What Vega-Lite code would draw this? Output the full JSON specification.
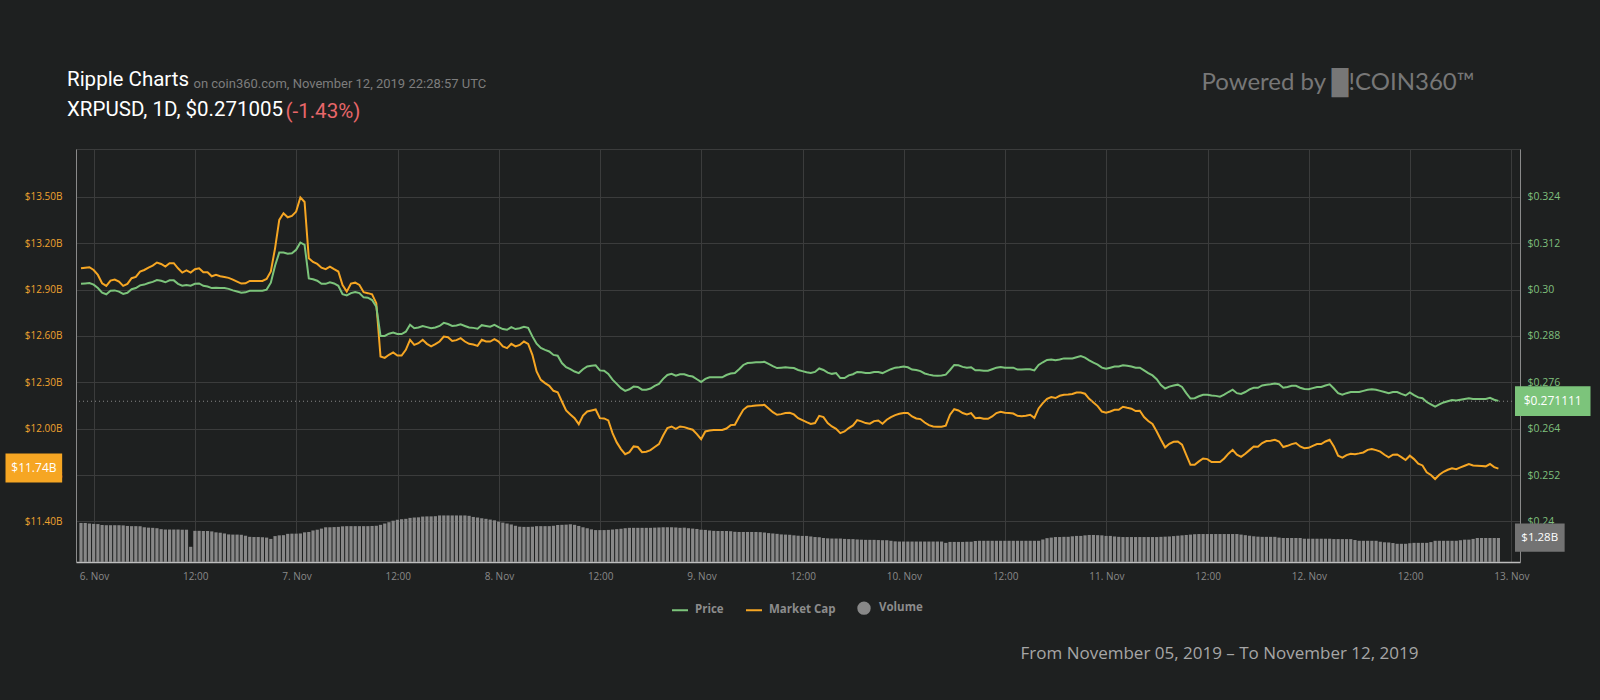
{
  "$schema": "https://vega.github.io/schema/vega-lite/v6.json",
  "width": 1444,
  "height": 413,
  "autosize": {"type": "none"},
  "padding": {"left": 76, "top": 149, "right": 80, "bottom": 138},
  "background": "#1e2020",
  "title": {
    "text": "Ripple Charts",
    "subtitle": "XRPUSD, 1D, $0.271005",
    "anchor": "start",
    "frame": "group",
    "font": "Roboto",
    "fontSize": 20.5,
    "fontWeight": "normal",
    "color": "#ffffff",
    "subtitleFont": "Roboto",
    "subtitleFontSize": 20.5,
    "subtitleColor": "#ffffff",
    "subtitlePadding": 9,
    "offset": -50,
    "dx": -9
  },
  "data": {
    "values": [
      {"t": "2019-11-05T22:28", "p": 0.3015, "m": 13.038, "v": 2.08},
      {"t": "2019-11-05T22:58", "p": 0.3016, "m": 13.042, "v": 2.08},
      {"t": "2019-11-05T23:28", "p": 0.3017, "m": 13.045, "v": 2.05},
      {"t": "2019-11-05T23:58", "p": 0.3013, "m": 13.027, "v": 2.03},
      {"t": "2019-11-06T00:28", "p": 0.3004, "m": 12.995, "v": 2.02},
      {"t": "2019-11-06T00:58", "p": 0.2992, "m": 12.941, "v": 1.97},
      {"t": "2019-11-06T01:28", "p": 0.2988, "m": 12.924, "v": 1.96},
      {"t": "2019-11-06T01:58", "p": 0.2997, "m": 12.958, "v": 1.96},
      {"t": "2019-11-06T02:28", "p": 0.2998, "m": 12.965, "v": 1.96},
      {"t": "2019-11-06T02:58", "p": 0.2995, "m": 12.952, "v": 1.96},
      {"t": "2019-11-06T03:28", "p": 0.2989, "m": 12.924, "v": 1.95},
      {"t": "2019-11-06T03:58", "p": 0.2992, "m": 12.937, "v": 1.92},
      {"t": "2019-11-06T04:28", "p": 0.3001, "m": 12.974, "v": 1.91},
      {"t": "2019-11-06T04:58", "p": 0.3004, "m": 12.982, "v": 1.91},
      {"t": "2019-11-06T05:28", "p": 0.3011, "m": 13.017, "v": 1.90},
      {"t": "2019-11-06T05:58", "p": 0.3013, "m": 13.027, "v": 1.85},
      {"t": "2019-11-06T06:28", "p": 0.3017, "m": 13.042, "v": 1.83},
      {"t": "2019-11-06T06:58", "p": 0.3020, "m": 13.055, "v": 1.82},
      {"t": "2019-11-06T07:28", "p": 0.3025, "m": 13.075, "v": 1.80},
      {"t": "2019-11-06T07:58", "p": 0.3023, "m": 13.066, "v": 1.75},
      {"t": "2019-11-06T08:28", "p": 0.3019, "m": 13.049, "v": 1.73},
      {"t": "2019-11-06T08:58", "p": 0.3024, "m": 13.071, "v": 1.73},
      {"t": "2019-11-06T09:28", "p": 0.3024, "m": 13.071, "v": 1.73},
      {"t": "2019-11-06T09:58", "p": 0.3015, "m": 13.038, "v": 1.73},
      {"t": "2019-11-06T10:28", "p": 0.3010, "m": 13.010, "v": 1.72},
      {"t": "2019-11-06T10:58", "p": 0.3012, "m": 13.025, "v": 1.72},
      {"t": "2019-11-06T11:28", "p": 0.3010, "m": 13.010, "v": 0.81},
      {"t": "2019-11-06T11:58", "p": 0.3015, "m": 13.032, "v": 1.66},
      {"t": "2019-11-06T12:28", "p": 0.3016, "m": 13.038, "v": 1.66},
      {"t": "2019-11-06T12:58", "p": 0.3010, "m": 13.012, "v": 1.65},
      {"t": "2019-11-06T13:28", "p": 0.3008, "m": 13.012, "v": 1.65},
      {"t": "2019-11-06T13:58", "p": 0.3004, "m": 12.986, "v": 1.63},
      {"t": "2019-11-06T14:28", "p": 0.3005, "m": 12.995, "v": 1.58},
      {"t": "2019-11-06T14:58", "p": 0.3004, "m": 12.986, "v": 1.56},
      {"t": "2019-11-06T15:28", "p": 0.3004, "m": 12.982, "v": 1.52},
      {"t": "2019-11-06T15:58", "p": 0.3002, "m": 12.976, "v": 1.47},
      {"t": "2019-11-06T16:28", "p": 0.2998, "m": 12.965, "v": 1.46},
      {"t": "2019-11-06T16:58", "p": 0.2995, "m": 12.952, "v": 1.46},
      {"t": "2019-11-06T17:28", "p": 0.2992, "m": 12.939, "v": 1.45},
      {"t": "2019-11-06T17:58", "p": 0.2993, "m": 12.941, "v": 1.40},
      {"t": "2019-11-06T18:28", "p": 0.2997, "m": 12.956, "v": 1.34},
      {"t": "2019-11-06T18:58", "p": 0.2997, "m": 12.956, "v": 1.33},
      {"t": "2019-11-06T19:28", "p": 0.2997, "m": 12.956, "v": 1.33},
      {"t": "2019-11-06T19:58", "p": 0.2997, "m": 12.956, "v": 1.32},
      {"t": "2019-11-06T20:28", "p": 0.3000, "m": 12.969, "v": 1.30},
      {"t": "2019-11-06T20:58", "p": 0.3018, "m": 13.017, "v": 1.23},
      {"t": "2019-11-06T21:28", "p": 0.3062, "m": 13.167, "v": 1.38},
      {"t": "2019-11-06T21:58", "p": 0.3096, "m": 13.351, "v": 1.42},
      {"t": "2019-11-06T22:28", "p": 0.3096, "m": 13.394, "v": 1.43},
      {"t": "2019-11-06T22:58", "p": 0.3093, "m": 13.368, "v": 1.50},
      {"t": "2019-11-06T23:28", "p": 0.3094, "m": 13.377, "v": 1.51},
      {"t": "2019-11-06T23:58", "p": 0.3103, "m": 13.405, "v": 1.51},
      {"t": "2019-11-07T00:28", "p": 0.3122, "m": 13.497, "v": 1.52},
      {"t": "2019-11-07T00:58", "p": 0.3116, "m": 13.467, "v": 1.58},
      {"t": "2019-11-07T01:28", "p": 0.3029, "m": 13.103, "v": 1.60},
      {"t": "2019-11-07T01:58", "p": 0.3027, "m": 13.079, "v": 1.68},
      {"t": "2019-11-07T02:28", "p": 0.3023, "m": 13.066, "v": 1.72},
      {"t": "2019-11-07T02:58", "p": 0.3015, "m": 13.042, "v": 1.78},
      {"t": "2019-11-07T03:28", "p": 0.3015, "m": 13.032, "v": 1.85},
      {"t": "2019-11-07T03:58", "p": 0.3019, "m": 13.049, "v": 1.85},
      {"t": "2019-11-07T04:28", "p": 0.3016, "m": 13.032, "v": 1.86},
      {"t": "2019-11-07T04:58", "p": 0.3010, "m": 13.017, "v": 1.87},
      {"t": "2019-11-07T05:28", "p": 0.2988, "m": 12.930, "v": 1.90},
      {"t": "2019-11-07T05:58", "p": 0.2985, "m": 12.887, "v": 1.91},
      {"t": "2019-11-07T06:28", "p": 0.2991, "m": 12.939, "v": 1.91},
      {"t": "2019-11-07T06:58", "p": 0.2994, "m": 12.945, "v": 1.91},
      {"t": "2019-11-07T07:28", "p": 0.2991, "m": 12.930, "v": 1.91},
      {"t": "2019-11-07T07:58", "p": 0.2980, "m": 12.883, "v": 1.91},
      {"t": "2019-11-07T08:28", "p": 0.2979, "m": 12.877, "v": 1.91},
      {"t": "2019-11-07T08:58", "p": 0.2973, "m": 12.870, "v": 1.92},
      {"t": "2019-11-07T09:28", "p": 0.2956, "m": 12.812, "v": 1.93},
      {"t": "2019-11-07T09:58", "p": 0.2880, "m": 12.467, "v": 1.98},
      {"t": "2019-11-07T10:28", "p": 0.2880, "m": 12.458, "v": 2.05},
      {"t": "2019-11-07T10:58", "p": 0.2886, "m": 12.478, "v": 2.12},
      {"t": "2019-11-07T11:28", "p": 0.2889, "m": 12.493, "v": 2.20},
      {"t": "2019-11-07T11:58", "p": 0.2885, "m": 12.473, "v": 2.25},
      {"t": "2019-11-07T12:28", "p": 0.2885, "m": 12.473, "v": 2.28},
      {"t": "2019-11-07T12:58", "p": 0.2891, "m": 12.510, "v": 2.30},
      {"t": "2019-11-07T13:28", "p": 0.2909, "m": 12.575, "v": 2.35},
      {"t": "2019-11-07T13:58", "p": 0.2900, "m": 12.542, "v": 2.37},
      {"t": "2019-11-07T14:28", "p": 0.2902, "m": 12.553, "v": 2.38},
      {"t": "2019-11-07T14:58", "p": 0.2906, "m": 12.575, "v": 2.42},
      {"t": "2019-11-07T15:28", "p": 0.2903, "m": 12.549, "v": 2.43},
      {"t": "2019-11-07T15:58", "p": 0.2900, "m": 12.532, "v": 2.43},
      {"t": "2019-11-07T16:28", "p": 0.2902, "m": 12.547, "v": 2.44},
      {"t": "2019-11-07T16:58", "p": 0.2906, "m": 12.564, "v": 2.48},
      {"t": "2019-11-07T17:28", "p": 0.2914, "m": 12.596, "v": 2.48},
      {"t": "2019-11-07T17:58", "p": 0.2911, "m": 12.592, "v": 2.48},
      {"t": "2019-11-07T18:28", "p": 0.2906, "m": 12.568, "v": 2.48},
      {"t": "2019-11-07T18:58", "p": 0.2907, "m": 12.573, "v": 2.48},
      {"t": "2019-11-07T19:28", "p": 0.2910, "m": 12.586, "v": 2.48},
      {"t": "2019-11-07T19:58", "p": 0.2906, "m": 12.564, "v": 2.48},
      {"t": "2019-11-07T20:28", "p": 0.2902, "m": 12.549, "v": 2.46},
      {"t": "2019-11-07T20:58", "p": 0.2901, "m": 12.545, "v": 2.40},
      {"t": "2019-11-07T21:28", "p": 0.2899, "m": 12.536, "v": 2.37},
      {"t": "2019-11-07T21:58", "p": 0.2908, "m": 12.575, "v": 2.33},
      {"t": "2019-11-07T22:28", "p": 0.2906, "m": 12.564, "v": 2.30},
      {"t": "2019-11-07T22:58", "p": 0.2904, "m": 12.564, "v": 2.26},
      {"t": "2019-11-07T23:28", "p": 0.2909, "m": 12.579, "v": 2.22},
      {"t": "2019-11-07T23:58", "p": 0.2903, "m": 12.564, "v": 2.15},
      {"t": "2019-11-08T00:28", "p": 0.2898, "m": 12.532, "v": 2.10},
      {"t": "2019-11-08T00:58", "p": 0.2896, "m": 12.521, "v": 2.05},
      {"t": "2019-11-08T01:28", "p": 0.2903, "m": 12.549, "v": 2.00},
      {"t": "2019-11-08T01:58", "p": 0.2898, "m": 12.532, "v": 1.93},
      {"t": "2019-11-08T02:28", "p": 0.2900, "m": 12.542, "v": 1.88},
      {"t": "2019-11-08T02:58", "p": 0.2904, "m": 12.564, "v": 1.87},
      {"t": "2019-11-08T03:28", "p": 0.2901, "m": 12.549, "v": 1.87},
      {"t": "2019-11-08T03:58", "p": 0.2879, "m": 12.478, "v": 1.88},
      {"t": "2019-11-08T04:28", "p": 0.2860, "m": 12.370, "v": 1.91},
      {"t": "2019-11-08T04:58", "p": 0.2849, "m": 12.316, "v": 1.91},
      {"t": "2019-11-08T05:28", "p": 0.2844, "m": 12.295, "v": 1.91},
      {"t": "2019-11-08T05:58", "p": 0.2840, "m": 12.277, "v": 1.91},
      {"t": "2019-11-08T06:28", "p": 0.2831, "m": 12.245, "v": 1.93},
      {"t": "2019-11-08T06:58", "p": 0.2829, "m": 12.236, "v": 1.97},
      {"t": "2019-11-08T07:28", "p": 0.2810, "m": 12.176, "v": 1.98},
      {"t": "2019-11-08T07:58", "p": 0.2799, "m": 12.118, "v": 1.99},
      {"t": "2019-11-08T08:28", "p": 0.2794, "m": 12.092, "v": 2.01},
      {"t": "2019-11-08T08:58", "p": 0.2788, "m": 12.068, "v": 1.98},
      {"t": "2019-11-08T09:28", "p": 0.2784, "m": 12.029, "v": 1.92},
      {"t": "2019-11-08T09:58", "p": 0.2794, "m": 12.085, "v": 1.85},
      {"t": "2019-11-08T10:28", "p": 0.2801, "m": 12.111, "v": 1.80},
      {"t": "2019-11-08T10:58", "p": 0.2803, "m": 12.118, "v": 1.74},
      {"t": "2019-11-08T11:28", "p": 0.2804, "m": 12.124, "v": 1.70},
      {"t": "2019-11-08T11:58", "p": 0.2791, "m": 12.068, "v": 1.70},
      {"t": "2019-11-08T12:28", "p": 0.2790, "m": 12.066, "v": 1.70},
      {"t": "2019-11-08T12:58", "p": 0.2782, "m": 12.053, "v": 1.71},
      {"t": "2019-11-08T13:28", "p": 0.2767, "m": 11.971, "v": 1.73},
      {"t": "2019-11-08T13:58", "p": 0.2756, "m": 11.911, "v": 1.75},
      {"t": "2019-11-08T14:28", "p": 0.2745, "m": 11.868, "v": 1.77},
      {"t": "2019-11-08T14:58", "p": 0.2738, "m": 11.835, "v": 1.80},
      {"t": "2019-11-08T15:28", "p": 0.2742, "m": 11.848, "v": 1.82},
      {"t": "2019-11-08T15:58", "p": 0.2749, "m": 11.885, "v": 1.82},
      {"t": "2019-11-08T16:28", "p": 0.2748, "m": 11.881, "v": 1.82},
      {"t": "2019-11-08T16:58", "p": 0.2741, "m": 11.848, "v": 1.82},
      {"t": "2019-11-08T17:28", "p": 0.2741, "m": 11.851, "v": 1.82},
      {"t": "2019-11-08T17:58", "p": 0.2744, "m": 11.861, "v": 1.82},
      {"t": "2019-11-08T18:28", "p": 0.2751, "m": 11.881, "v": 1.83},
      {"t": "2019-11-08T18:58", "p": 0.2756, "m": 11.900, "v": 1.84},
      {"t": "2019-11-08T19:28", "p": 0.2769, "m": 11.956, "v": 1.85},
      {"t": "2019-11-08T19:58", "p": 0.2779, "m": 12.004, "v": 1.85},
      {"t": "2019-11-08T20:28", "p": 0.2782, "m": 12.014, "v": 1.85},
      {"t": "2019-11-08T20:58", "p": 0.2777, "m": 11.999, "v": 1.84},
      {"t": "2019-11-08T21:28", "p": 0.2781, "m": 12.014, "v": 1.82},
      {"t": "2019-11-08T21:58", "p": 0.2781, "m": 12.010, "v": 1.83},
      {"t": "2019-11-08T22:28", "p": 0.2777, "m": 12.001, "v": 1.80},
      {"t": "2019-11-08T22:58", "p": 0.2775, "m": 11.993, "v": 1.78},
      {"t": "2019-11-08T23:28", "p": 0.2768, "m": 11.965, "v": 1.76},
      {"t": "2019-11-08T23:58", "p": 0.2761, "m": 11.932, "v": 1.72},
      {"t": "2019-11-09T00:28", "p": 0.2769, "m": 11.982, "v": 1.71},
      {"t": "2019-11-09T00:58", "p": 0.2773, "m": 11.988, "v": 1.68},
      {"t": "2019-11-09T01:28", "p": 0.2773, "m": 11.991, "v": 1.66},
      {"t": "2019-11-09T01:58", "p": 0.2773, "m": 11.991, "v": 1.65},
      {"t": "2019-11-09T02:28", "p": 0.2773, "m": 11.991, "v": 1.65},
      {"t": "2019-11-09T02:58", "p": 0.2779, "m": 12.001, "v": 1.65},
      {"t": "2019-11-09T03:28", "p": 0.2783, "m": 12.023, "v": 1.64},
      {"t": "2019-11-09T03:58", "p": 0.2784, "m": 12.025, "v": 1.61},
      {"t": "2019-11-09T04:28", "p": 0.2794, "m": 12.075, "v": 1.60},
      {"t": "2019-11-09T04:58", "p": 0.2805, "m": 12.122, "v": 1.60},
      {"t": "2019-11-09T05:28", "p": 0.2810, "m": 12.144, "v": 1.60},
      {"t": "2019-11-09T05:58", "p": 0.2811, "m": 12.146, "v": 1.60},
      {"t": "2019-11-09T06:28", "p": 0.2812, "m": 12.150, "v": 1.60},
      {"t": "2019-11-09T06:58", "p": 0.2812, "m": 12.152, "v": 1.59},
      {"t": "2019-11-09T07:28", "p": 0.2813, "m": 12.154, "v": 1.57},
      {"t": "2019-11-09T07:58", "p": 0.2808, "m": 12.131, "v": 1.54},
      {"t": "2019-11-09T08:28", "p": 0.2802, "m": 12.107, "v": 1.52},
      {"t": "2019-11-09T08:58", "p": 0.2797, "m": 12.090, "v": 1.50},
      {"t": "2019-11-09T09:28", "p": 0.2798, "m": 12.094, "v": 1.47},
      {"t": "2019-11-09T09:58", "p": 0.2799, "m": 12.101, "v": 1.46},
      {"t": "2019-11-09T10:28", "p": 0.2798, "m": 12.103, "v": 1.45},
      {"t": "2019-11-09T10:58", "p": 0.2797, "m": 12.092, "v": 1.42},
      {"t": "2019-11-09T11:28", "p": 0.2792, "m": 12.068, "v": 1.40},
      {"t": "2019-11-09T11:58", "p": 0.2789, "m": 12.055, "v": 1.39},
      {"t": "2019-11-09T12:28", "p": 0.2786, "m": 12.042, "v": 1.39},
      {"t": "2019-11-09T12:58", "p": 0.2784, "m": 12.030, "v": 1.36},
      {"t": "2019-11-09T13:28", "p": 0.2787, "m": 12.036, "v": 1.33},
      {"t": "2019-11-09T13:58", "p": 0.2796, "m": 12.083, "v": 1.32},
      {"t": "2019-11-09T14:28", "p": 0.2792, "m": 12.075, "v": 1.28},
      {"t": "2019-11-09T14:58", "p": 0.2785, "m": 12.036, "v": 1.26},
      {"t": "2019-11-09T15:28", "p": 0.2782, "m": 12.014, "v": 1.25},
      {"t": "2019-11-09T15:58", "p": 0.2784, "m": 11.999, "v": 1.25},
      {"t": "2019-11-09T16:28", "p": 0.2771, "m": 11.971, "v": 1.25},
      {"t": "2019-11-09T16:58", "p": 0.2771, "m": 11.982, "v": 1.23},
      {"t": "2019-11-09T17:28", "p": 0.2778, "m": 12.004, "v": 1.22},
      {"t": "2019-11-09T17:58", "p": 0.2781, "m": 12.021, "v": 1.22},
      {"t": "2019-11-09T18:28", "p": 0.2787, "m": 12.055, "v": 1.20},
      {"t": "2019-11-09T18:58", "p": 0.2786, "m": 12.047, "v": 1.19},
      {"t": "2019-11-09T19:28", "p": 0.2784, "m": 12.036, "v": 1.18},
      {"t": "2019-11-09T19:58", "p": 0.2784, "m": 12.032, "v": 1.18},
      {"t": "2019-11-09T20:28", "p": 0.2787, "m": 12.049, "v": 1.18},
      {"t": "2019-11-09T20:58", "p": 0.2787, "m": 12.053, "v": 1.17},
      {"t": "2019-11-09T21:28", "p": 0.2784, "m": 12.032, "v": 1.16},
      {"t": "2019-11-09T21:58", "p": 0.2789, "m": 12.058, "v": 1.16},
      {"t": "2019-11-09T22:28", "p": 0.2794, "m": 12.075, "v": 1.13},
      {"t": "2019-11-09T22:58", "p": 0.2798, "m": 12.088, "v": 1.10},
      {"t": "2019-11-09T23:28", "p": 0.2799, "m": 12.096, "v": 1.09},
      {"t": "2019-11-09T23:58", "p": 0.2801, "m": 12.101, "v": 1.09},
      {"t": "2019-11-10T00:28", "p": 0.2799, "m": 12.101, "v": 1.09},
      {"t": "2019-11-10T00:58", "p": 0.2793, "m": 12.079, "v": 1.09},
      {"t": "2019-11-10T01:28", "p": 0.2792, "m": 12.066, "v": 1.09},
      {"t": "2019-11-10T01:58", "p": 0.2789, "m": 12.062, "v": 1.09},
      {"t": "2019-11-10T02:28", "p": 0.2783, "m": 12.040, "v": 1.09},
      {"t": "2019-11-10T02:58", "p": 0.2780, "m": 12.023, "v": 1.09},
      {"t": "2019-11-10T03:28", "p": 0.2778, "m": 12.014, "v": 1.09},
      {"t": "2019-11-10T03:58", "p": 0.2777, "m": 12.012, "v": 1.09},
      {"t": "2019-11-10T04:28", "p": 0.2778, "m": 12.012, "v": 1.09},
      {"t": "2019-11-10T04:58", "p": 0.2780, "m": 12.019, "v": 1.02},
      {"t": "2019-11-10T05:28", "p": 0.2792, "m": 12.090, "v": 1.07},
      {"t": "2019-11-10T05:58", "p": 0.2805, "m": 12.126, "v": 1.07},
      {"t": "2019-11-10T06:28", "p": 0.2804, "m": 12.118, "v": 1.07},
      {"t": "2019-11-10T06:58", "p": 0.2800, "m": 12.101, "v": 1.07},
      {"t": "2019-11-10T07:28", "p": 0.2798, "m": 12.092, "v": 1.08},
      {"t": "2019-11-10T07:58", "p": 0.2799, "m": 12.101, "v": 1.08},
      {"t": "2019-11-10T08:28", "p": 0.2791, "m": 12.068, "v": 1.12},
      {"t": "2019-11-10T08:58", "p": 0.2791, "m": 12.070, "v": 1.13},
      {"t": "2019-11-10T09:28", "p": 0.2790, "m": 12.064, "v": 1.13},
      {"t": "2019-11-10T09:58", "p": 0.2790, "m": 12.064, "v": 1.13},
      {"t": "2019-11-10T10:28", "p": 0.2794, "m": 12.079, "v": 1.13},
      {"t": "2019-11-10T10:58", "p": 0.2798, "m": 12.101, "v": 1.13},
      {"t": "2019-11-10T11:28", "p": 0.2800, "m": 12.109, "v": 1.13},
      {"t": "2019-11-10T11:58", "p": 0.2798, "m": 12.103, "v": 1.13},
      {"t": "2019-11-10T12:28", "p": 0.2798, "m": 12.101, "v": 1.13},
      {"t": "2019-11-10T12:58", "p": 0.2798, "m": 12.098, "v": 1.13},
      {"t": "2019-11-10T13:28", "p": 0.2793, "m": 12.083, "v": 1.13},
      {"t": "2019-11-10T13:58", "p": 0.2793, "m": 12.081, "v": 1.13},
      {"t": "2019-11-10T14:28", "p": 0.2794, "m": 12.083, "v": 1.13},
      {"t": "2019-11-10T14:58", "p": 0.2794, "m": 12.090, "v": 1.13},
      {"t": "2019-11-10T15:28", "p": 0.2791, "m": 12.070, "v": 1.13},
      {"t": "2019-11-10T15:58", "p": 0.2805, "m": 12.131, "v": 1.13},
      {"t": "2019-11-10T16:28", "p": 0.2812, "m": 12.165, "v": 1.20},
      {"t": "2019-11-10T16:58", "p": 0.2818, "m": 12.193, "v": 1.27},
      {"t": "2019-11-10T17:28", "p": 0.2819, "m": 12.204, "v": 1.30},
      {"t": "2019-11-10T17:58", "p": 0.2817, "m": 12.198, "v": 1.33},
      {"t": "2019-11-10T18:28", "p": 0.2819, "m": 12.213, "v": 1.33},
      {"t": "2019-11-10T18:58", "p": 0.2822, "m": 12.219, "v": 1.34},
      {"t": "2019-11-10T19:28", "p": 0.2822, "m": 12.221, "v": 1.34},
      {"t": "2019-11-10T19:58", "p": 0.2822, "m": 12.224, "v": 1.37},
      {"t": "2019-11-10T20:28", "p": 0.2825, "m": 12.234, "v": 1.39},
      {"t": "2019-11-10T20:58", "p": 0.2828, "m": 12.234, "v": 1.39},
      {"t": "2019-11-10T21:28", "p": 0.2824, "m": 12.226, "v": 1.42},
      {"t": "2019-11-10T21:58", "p": 0.2817, "m": 12.193, "v": 1.44},
      {"t": "2019-11-10T22:28", "p": 0.2811, "m": 12.170, "v": 1.44},
      {"t": "2019-11-10T22:58", "p": 0.2806, "m": 12.146, "v": 1.43},
      {"t": "2019-11-10T23:28", "p": 0.2798, "m": 12.111, "v": 1.42},
      {"t": "2019-11-10T23:58", "p": 0.2795, "m": 12.103, "v": 1.39},
      {"t": "2019-11-11T00:28", "p": 0.2798, "m": 12.111, "v": 1.39},
      {"t": "2019-11-11T00:58", "p": 0.2801, "m": 12.122, "v": 1.36},
      {"t": "2019-11-11T01:28", "p": 0.2801, "m": 12.122, "v": 1.34},
      {"t": "2019-11-11T01:58", "p": 0.2804, "m": 12.142, "v": 1.33},
      {"t": "2019-11-11T02:28", "p": 0.2803, "m": 12.135, "v": 1.33},
      {"t": "2019-11-11T02:58", "p": 0.2801, "m": 12.129, "v": 1.33},
      {"t": "2019-11-11T03:28", "p": 0.2798, "m": 12.114, "v": 1.33},
      {"t": "2019-11-11T03:58", "p": 0.2798, "m": 12.116, "v": 1.33},
      {"t": "2019-11-11T04:28", "p": 0.2791, "m": 12.075, "v": 1.33},
      {"t": "2019-11-11T04:58", "p": 0.2784, "m": 12.049, "v": 1.33},
      {"t": "2019-11-11T05:28", "p": 0.2778, "m": 12.030, "v": 1.33},
      {"t": "2019-11-11T05:58", "p": 0.2768, "m": 11.982, "v": 1.33},
      {"t": "2019-11-11T06:28", "p": 0.2753, "m": 11.928, "v": 1.34},
      {"t": "2019-11-11T06:58", "p": 0.2744, "m": 11.879, "v": 1.35},
      {"t": "2019-11-11T07:28", "p": 0.2749, "m": 11.902, "v": 1.36},
      {"t": "2019-11-11T07:58", "p": 0.2752, "m": 11.915, "v": 1.38},
      {"t": "2019-11-11T08:28", "p": 0.2754, "m": 11.917, "v": 1.40},
      {"t": "2019-11-11T08:58", "p": 0.2748, "m": 11.896, "v": 1.42},
      {"t": "2019-11-11T09:28", "p": 0.2732, "m": 11.831, "v": 1.44},
      {"t": "2019-11-11T09:58", "p": 0.2718, "m": 11.766, "v": 1.46},
      {"t": "2019-11-11T10:28", "p": 0.2719, "m": 11.766, "v": 1.48},
      {"t": "2019-11-11T10:58", "p": 0.2724, "m": 11.788, "v": 1.49},
      {"t": "2019-11-11T11:28", "p": 0.2728, "m": 11.807, "v": 1.49},
      {"t": "2019-11-11T11:58", "p": 0.2728, "m": 11.803, "v": 1.49},
      {"t": "2019-11-11T12:28", "p": 0.2726, "m": 11.784, "v": 1.49},
      {"t": "2019-11-11T12:58", "p": 0.2725, "m": 11.784, "v": 1.49},
      {"t": "2019-11-11T13:28", "p": 0.2723, "m": 11.784, "v": 1.49},
      {"t": "2019-11-11T13:58", "p": 0.2728, "m": 11.807, "v": 1.49},
      {"t": "2019-11-11T14:28", "p": 0.2735, "m": 11.838, "v": 1.49},
      {"t": "2019-11-11T14:58", "p": 0.2741, "m": 11.863, "v": 1.49},
      {"t": "2019-11-11T15:28", "p": 0.2732, "m": 11.831, "v": 1.49},
      {"t": "2019-11-11T15:58", "p": 0.2730, "m": 11.818, "v": 1.46},
      {"t": "2019-11-11T16:28", "p": 0.2735, "m": 11.838, "v": 1.43},
      {"t": "2019-11-11T16:58", "p": 0.2742, "m": 11.861, "v": 1.40},
      {"t": "2019-11-11T17:28", "p": 0.2746, "m": 11.885, "v": 1.37},
      {"t": "2019-11-11T17:58", "p": 0.2746, "m": 11.883, "v": 1.35},
      {"t": "2019-11-11T18:28", "p": 0.2752, "m": 11.907, "v": 1.34},
      {"t": "2019-11-11T18:58", "p": 0.2754, "m": 11.920, "v": 1.34},
      {"t": "2019-11-11T19:28", "p": 0.2755, "m": 11.922, "v": 1.34},
      {"t": "2019-11-11T19:58", "p": 0.2757, "m": 11.928, "v": 1.34},
      {"t": "2019-11-11T20:28", "p": 0.2755, "m": 11.917, "v": 1.30},
      {"t": "2019-11-11T20:58", "p": 0.2746, "m": 11.881, "v": 1.28},
      {"t": "2019-11-11T21:28", "p": 0.2748, "m": 11.889, "v": 1.28},
      {"t": "2019-11-11T21:58", "p": 0.2751, "m": 11.900, "v": 1.28},
      {"t": "2019-11-11T22:28", "p": 0.2751, "m": 11.907, "v": 1.28},
      {"t": "2019-11-11T22:58", "p": 0.2746, "m": 11.885, "v": 1.28},
      {"t": "2019-11-11T23:28", "p": 0.2743, "m": 11.874, "v": 1.24},
      {"t": "2019-11-11T23:58", "p": 0.2742, "m": 11.876, "v": 1.24},
      {"t": "2019-11-12T00:28", "p": 0.2745, "m": 11.889, "v": 1.24},
      {"t": "2019-11-12T00:58", "p": 0.2748, "m": 11.900, "v": 1.24},
      {"t": "2019-11-12T01:28", "p": 0.2748, "m": 11.900, "v": 1.24},
      {"t": "2019-11-12T01:58", "p": 0.2752, "m": 11.917, "v": 1.24},
      {"t": "2019-11-12T02:28", "p": 0.2755, "m": 11.928, "v": 1.24},
      {"t": "2019-11-12T02:58", "p": 0.2744, "m": 11.885, "v": 1.22},
      {"t": "2019-11-12T03:28", "p": 0.2732, "m": 11.825, "v": 1.22},
      {"t": "2019-11-12T03:58", "p": 0.2728, "m": 11.812, "v": 1.22},
      {"t": "2019-11-12T04:28", "p": 0.2732, "m": 11.829, "v": 1.22},
      {"t": "2019-11-12T04:58", "p": 0.2735, "m": 11.838, "v": 1.22},
      {"t": "2019-11-12T05:28", "p": 0.2735, "m": 11.835, "v": 1.17},
      {"t": "2019-11-12T05:58", "p": 0.2735, "m": 11.840, "v": 1.13},
      {"t": "2019-11-12T06:28", "p": 0.2738, "m": 11.846, "v": 1.13},
      {"t": "2019-11-12T06:58", "p": 0.2741, "m": 11.863, "v": 1.13},
      {"t": "2019-11-12T07:28", "p": 0.2742, "m": 11.868, "v": 1.13},
      {"t": "2019-11-12T07:58", "p": 0.2741, "m": 11.861, "v": 1.13},
      {"t": "2019-11-12T08:28", "p": 0.2738, "m": 11.851, "v": 1.08},
      {"t": "2019-11-12T08:58", "p": 0.2735, "m": 11.831, "v": 1.05},
      {"t": "2019-11-12T09:28", "p": 0.2732, "m": 11.814, "v": 1.04},
      {"t": "2019-11-12T09:58", "p": 0.2735, "m": 11.831, "v": 1.01},
      {"t": "2019-11-12T10:28", "p": 0.2735, "m": 11.833, "v": 0.97},
      {"t": "2019-11-12T10:58", "p": 0.2730, "m": 11.816, "v": 0.97},
      {"t": "2019-11-12T11:28", "p": 0.2726, "m": 11.797, "v": 0.97},
      {"t": "2019-11-12T11:58", "p": 0.2734, "m": 11.825, "v": 1.00},
      {"t": "2019-11-12T12:28", "p": 0.2727, "m": 11.803, "v": 1.02},
      {"t": "2019-11-12T12:58", "p": 0.2721, "m": 11.773, "v": 1.02},
      {"t": "2019-11-12T13:28", "p": 0.2719, "m": 11.762, "v": 1.02},
      {"t": "2019-11-12T13:58", "p": 0.2709, "m": 11.717, "v": 1.02},
      {"t": "2019-11-12T14:28", "p": 0.2703, "m": 11.700, "v": 1.06},
      {"t": "2019-11-12T14:58", "p": 0.2697, "m": 11.674, "v": 1.13},
      {"t": "2019-11-12T15:28", "p": 0.2703, "m": 11.702, "v": 1.13},
      {"t": "2019-11-12T15:58", "p": 0.2708, "m": 11.721, "v": 1.13},
      {"t": "2019-11-12T16:28", "p": 0.2711, "m": 11.734, "v": 1.13},
      {"t": "2019-11-12T16:58", "p": 0.2714, "m": 11.743, "v": 1.13},
      {"t": "2019-11-12T17:28", "p": 0.2713, "m": 11.738, "v": 1.13},
      {"t": "2019-11-12T17:58", "p": 0.2715, "m": 11.749, "v": 1.16},
      {"t": "2019-11-12T18:28", "p": 0.2717, "m": 11.760, "v": 1.19},
      {"t": "2019-11-12T18:58", "p": 0.2719, "m": 11.771, "v": 1.19},
      {"t": "2019-11-12T19:28", "p": 0.2717, "m": 11.762, "v": 1.23},
      {"t": "2019-11-12T19:58", "p": 0.2717, "m": 11.760, "v": 1.28},
      {"t": "2019-11-12T20:28", "p": 0.2717, "m": 11.758, "v": 1.28},
      {"t": "2019-11-12T20:58", "p": 0.2717, "m": 11.756, "v": 1.28},
      {"t": "2019-11-12T21:28", "p": 0.2720, "m": 11.771, "v": 1.28},
      {"t": "2019-11-12T21:58", "p": 0.2715, "m": 11.751, "v": 1.28},
      {"t": "2019-11-12T22:28", "p": 0.2712, "m": 11.741, "v": 1.28}
    ]
  },
  "layer": [
    {
      "layer": [
        {
          "mark": {"type": "bar", "width": 3.2},
          "encoding": {
            "x": {
              "field": "t",
              "type": "temporal",
              "scale": {"domain": [{"year": 2019, "month": 11, "date": 5, "hours": 22, "minutes": 28}, {"year": 2019, "month": 11, "date": 13, "hours": 0, "minutes": 26}]},
              "axis": {
                "values": [
                  {"year": 2019, "month": 11, "date": 6, "hours": 0},
                  {"year": 2019, "month": 11, "date": 6, "hours": 12},
                  {"year": 2019, "month": 11, "date": 7, "hours": 0},
                  {"year": 2019, "month": 11, "date": 7, "hours": 12},
                  {"year": 2019, "month": 11, "date": 8, "hours": 0},
                  {"year": 2019, "month": 11, "date": 8, "hours": 12},
                  {"year": 2019, "month": 11, "date": 9, "hours": 0},
                  {"year": 2019, "month": 11, "date": 9, "hours": 12},
                  {"year": 2019, "month": 11, "date": 10, "hours": 0},
                  {"year": 2019, "month": 11, "date": 10, "hours": 12},
                  {"year": 2019, "month": 11, "date": 11, "hours": 0},
                  {"year": 2019, "month": 11, "date": 11, "hours": 12},
                  {"year": 2019, "month": 11, "date": 12, "hours": 0},
                  {"year": 2019, "month": 11, "date": 12, "hours": 12},
                  {"year": 2019, "month": 11, "date": 13, "hours": 0}
                ],
                "labelExpr": "hours(datum.value) === 0 ? timeFormat(datum.value, '%-d. %b') : timeFormat(datum.value, '%H:%M')",
                "grid": true,
                "labelColor": "#8a8a8a",
                "labelFontSize": 10,
                "labelPadding": 9,
                "labelFlush": false,
                "labelOverlap": false,
                "domainColor": "#bdbdbd",
                "domainWidth": 1.5,
                "title": "From November 05, 2019 – To November 12, 2019",
                "titleX": 1342,
                "titleY": 96,
                "titleAlign": "right",
                "titleBaseline": "alphabetic",
                "titleAngle": 0,
                "titleFont": "Open Sans",
                "titleFontSize": 17,
                "titleFontWeight": "normal",
                "titleColor": "#a6a6a6"
              }
            },
            "y": {
              "field": "v",
              "type": "quantitative",
              "scale": {"domain": [0, 21.5]},
              "axis": {
                "orient": "left",
                "labels": false,
                "ticks": false,
                "domain": false,
                "grid": false,
                "title": "Powered by  █!COIN360™",
                "titleX": 1125,
                "titleY": -60,
                "titleAngle": 0,
                "titleAlign": "left",
                "titleBaseline": "alphabetic",
                "titleFont": "Lato",
                "titleFontSize": 24,
                "titleFontWeight": "normal",
                "titleColor": "#777777"
              }
            },
            "color": {
              "datum": "Volume",
              "type": "nominal",
              "scale": {"domain": ["Price", "Market Cap", "Volume"], "range": ["#7cc47b", "#f6a623", "#888888"]},
              "legend": {
                "orient": "none",
                "legendX": 595,
                "legendY": 450,
                "direction": "horizontal",
                "title": null,
                "padding": 0,
                "labelColor": "#8c8c8c",
                "labelFont": "Open Sans",
                "labelFontSize": 11.5,
                "labelFontWeight": "bold",
                "labelOffset": 6,
                "columnPadding": 18,
                "symbolSize": 256,
                "symbolStrokeWidth": 2,
                "encode": {
                  "symbols": {
                    "update": {
                      "shape": {"signal": "datum.value === 'Volume' ? 'circle' : 'stroke'"},
                      "size": {"signal": "datum.value === 'Volume' ? 130 : 256"},
                      "fill": {"signal": "datum.value === 'Volume' ? '#888888' : 'transparent'"},
                      "stroke": {"signal": "datum.value === 'Volume' ? '#888888' : datum.value === 'Price' ? '#7cc47b' : '#f6a623'"},
                      "strokeWidth": {"value": 2}
                    }
                  }
                }
              }
            }
          }
        },
        {
          "data": {"values": [{}]},
          "mark": {"type": "rect", "color": "#737373"},
          "encoding": {
            "x": {"datum": {"year": 2019, "month": 11, "date": 13, "hours": 0, "minutes": 26}, "type": "temporal"},
            "x2": {"datum": {"year": 2019, "month": 11, "date": 13, "hours": 6, "minutes": 19}},
            "y": {"datum": 2.05, "type": "quantitative"},
            "y2": {"datum": 0.55}
          }
        },
        {
          "data": {"values": [{}]},
          "mark": {"type": "text", "color": "#ffffff", "fontSize": 11.5, "font": "Open Sans", "align": "center", "baseline": "middle", "text": "$1.28B"},
          "encoding": {
            "x": {"datum": {"year": 2019, "month": 11, "date": 13, "hours": 3, "minutes": 22}, "type": "temporal"},
            "y": {"datum": 1.3, "type": "quantitative"}
          }
        }
      ]
    },
    {
      "layer": [
        {
          "mark": {"type": "line", "strokeWidth": 2},
          "encoding": {
            "x": {"field": "t", "type": "temporal"},
            "y": {
              "field": "m",
              "type": "quantitative",
              "scale": {"domain": [11.137, 13.81], "nice": false, "zero": false},
              "axis": {
                "orient": "left",
                "values": [11.4, 11.7, 12.0, 12.3, 12.6, 12.9, 13.2, 13.5],
                "labelExpr": "'$' + format(datum.value, '.2f') + 'B'",
                "grid": true,
                "ticks": false,
                "labelPadding": 14,
                "labelColor": "#f0a32f",
                "labelFontSize": 10,
                "domainColor": "#8a8a8a",
                "title": "on coin360.com, November 12, 2019 22:28:57 UTC",
                "titleX": 117,
                "titleY": -62,
                "titleAngle": 0,
                "titleAlign": "left",
                "titleBaseline": "alphabetic",
                "titleFont": "Roboto",
                "titleFontSize": 13,
                "titleFontWeight": "normal",
                "titleColor": "#7d7d7d"
              }
            },
            "color": {"datum": "Market Cap", "type": "nominal"}
          }
        },
        {
          "data": {"values": [{}]},
          "mark": {"type": "rect", "color": "#f6a623"},
          "encoding": {
            "x": {"datum": {"year": 2019, "month": 11, "date": 5, "hours": 13, "minutes": 31}, "type": "temporal"},
            "x2": {"datum": {"year": 2019, "month": 11, "date": 5, "hours": 20, "minutes": 14}},
            "y": {"datum": 11.84, "type": "quantitative"},
            "y2": {"datum": 11.652}
          }
        },
        {
          "data": {"values": [{}]},
          "mark": {"type": "text", "color": "#ffffff", "fontSize": 12, "font": "Open Sans", "align": "center", "baseline": "middle", "text": "$11.74B"},
          "encoding": {
            "x": {"datum": {"year": 2019, "month": 11, "date": 5, "hours": 16, "minutes": 53}, "type": "temporal"},
            "y": {"datum": 11.746, "type": "quantitative"}
          }
        }
      ]
    },
    {
      "layer": [
        {
          "data": {"values": [{}]},
          "mark": {"type": "rule", "color": "#8a8a8a", "strokeWidth": 1, "strokeDash": [1, 3]},
          "encoding": {
            "y": {"datum": 0.271111, "type": "quantitative"}
          }
        },
        {
          "mark": {"type": "line", "strokeWidth": 2},
          "encoding": {
            "x": {"field": "t", "type": "temporal"},
            "y": {
              "field": "p",
              "type": "quantitative",
              "scale": {"domain": [0.2295, 0.3364], "nice": false, "zero": false},
              "axis": {
                "orient": "right",
                "values": [0.24, 0.252, 0.264, 0.276, 0.288, 0.3, 0.312, 0.324],
                "labelExpr": "'$' + replace(format(datum.value, '.3f'), regexp('0$'), '')",
                "grid": false,
                "ticks": false,
                "labelPadding": 7,
                "labelColor": "#7fbf7d",
                "labelFontSize": 10.5,
                "domainColor": "#8a8a8a",
                "title": "(-1.43%)",
                "titleX": -1235,
                "titleY": -32,
                "titleAngle": 0,
                "titleAlign": "left",
                "titleBaseline": "alphabetic",
                "titleFont": "Roboto",
                "titleFontSize": 20.5,
                "titleFontWeight": "normal",
                "titleColor": "#e8676a"
              }
            },
            "color": {"datum": "Price", "type": "nominal"}
          }
        },
        {
          "data": {"values": [{}]},
          "mark": {"type": "rect", "color": "#7cc47b"},
          "encoding": {
            "x": {"datum": {"year": 2019, "month": 11, "date": 13, "hours": 0, "minutes": 26}, "type": "temporal"},
            "x2": {"datum": {"year": 2019, "month": 11, "date": 13, "hours": 9, "minutes": 23}},
            "y": {"datum": 0.275, "type": "quantitative"},
            "y2": {"datum": 0.2673}
          }
        },
        {
          "data": {"values": [{}]},
          "mark": {"type": "text", "color": "#ffffff", "fontSize": 12, "font": "Open Sans", "align": "center", "baseline": "middle", "text": "$0.271111"},
          "encoding": {
            "x": {"datum": {"year": 2019, "month": 11, "date": 13, "hours": 4, "minutes": 54}, "type": "temporal"},
            "y": {"datum": 0.2711, "type": "quantitative"}
          }
        }
      ]
    }
  ],
  "resolve": {"scale": {"y": "independent"}, "axis": {"y": "independent"}},
  "config": {
    "font": "Open Sans",
    "view": {"stroke": "#3b3c3c"},
    "axis": {
      "gridColor": "#3b3c3c",
      "gridWidth": 1,
      "ticks": false,
      "labelFont": "Open Sans"
    }
  }
}
